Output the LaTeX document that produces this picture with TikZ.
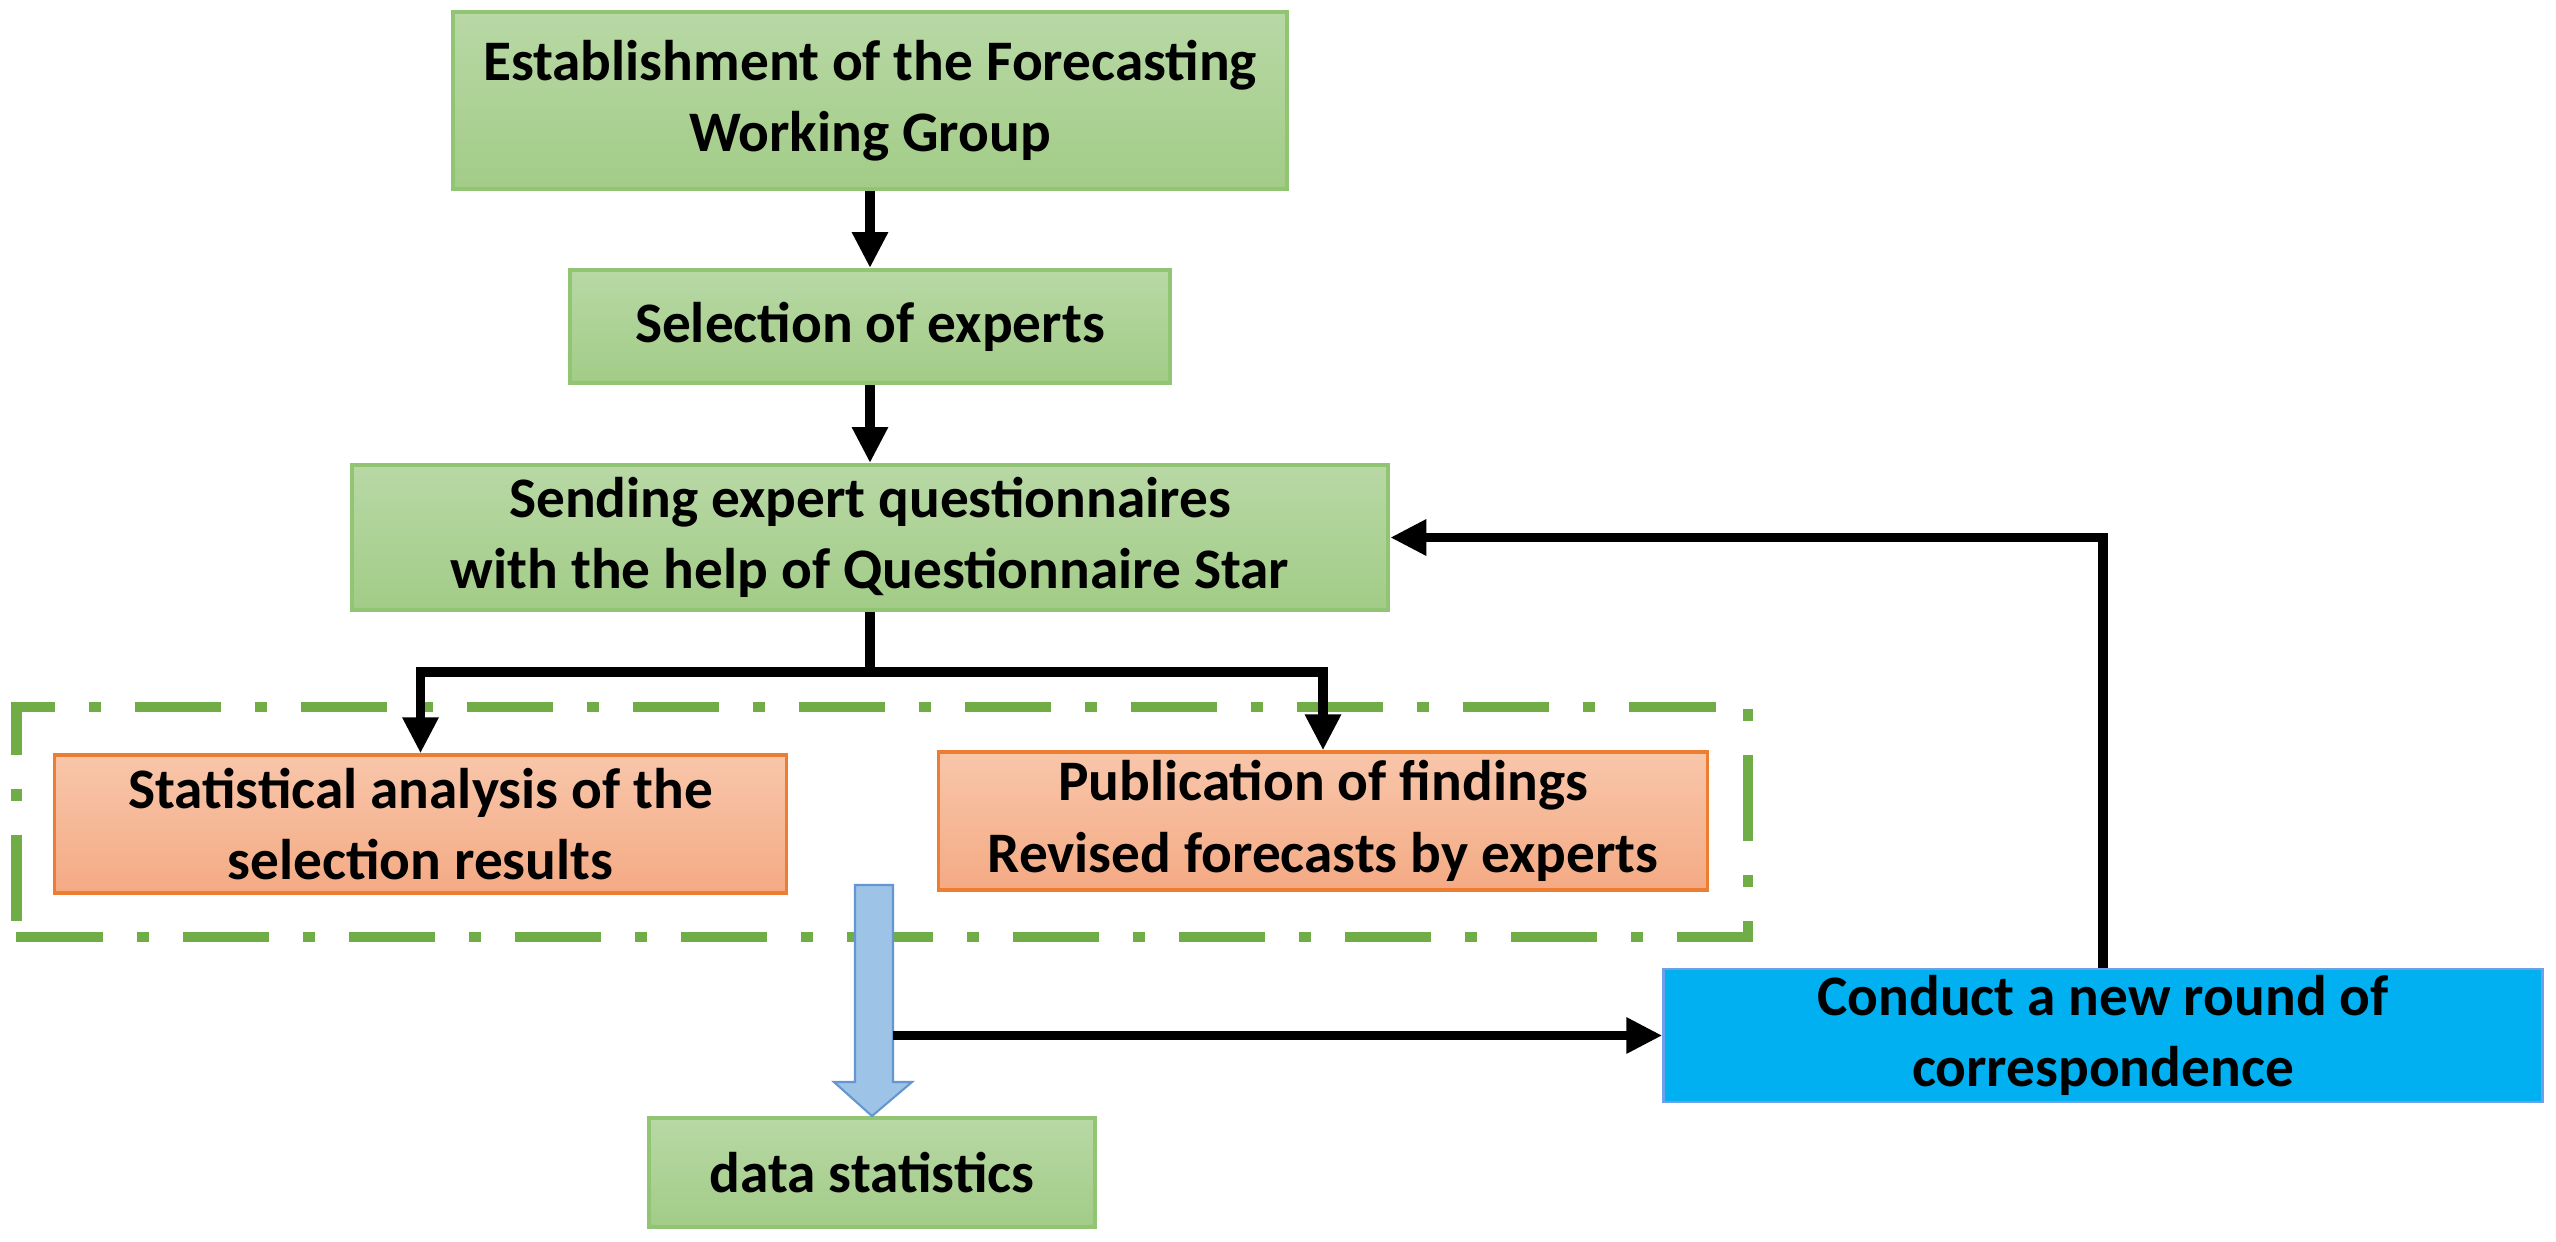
\documentclass[tikz,border=0pt]{standalone}
\usepackage{fontspec}
\setmainfont{Carlito}
\usetikzlibrary{arrows.meta,calc}
\definecolor{gTop}{RGB}{184,216,165}
\definecolor{gBot}{RGB}{162,204,135}
\definecolor{gBrd}{RGB}{145,196,115}
\definecolor{oTop}{RGB}{248,198,170}
\definecolor{oBot}{RGB}{244,170,132}
\definecolor{oBrd}{RGB}{237,125,49}
\definecolor{cBlue}{RGB}{0,176,240}
\definecolor{cBrd}{RGB}{110,160,230}
\definecolor{aBlue}{RGB}{157,195,230}
\definecolor{aBrd}{RGB}{100,150,210}
\definecolor{grpGreen}{RGB}{112,173,71}
\begin{document}
\begin{tikzpicture}[x=0.01cm,y=-0.01cm,
  box/.style={rectangle, inner sep=0pt, align=center,
    font=\fontsize{16.3}{20.3}\selectfont\bfseries, text=black},
  gbox/.style={box, top color=gTop, bottom color=gBot, draw=gBrd, line width=1.1pt},
  obox/.style={box, top color=oTop, bottom color=oBot, draw=oBrd, line width=0.9pt},
  cbox/.style={box, fill=cBlue, draw=cBrd, line width=0.8pt},
  grp/.style={rectangle, draw=grpGreen, line width=0.1cm,
    dash pattern=on 0.86cm off 0.34cm on 0.12cm off 0.34cm},
  conn/.style={line width=0.095cm, draw=black},
  tip/.style={-{Triangle[length=0.36cm,width=0.34cm]}},
  fat/.style={fill=aBlue, draw=aBrd, line width=0.6pt}
]
\fill[white] (0,0) rectangle (2556,1242);
\useasboundingbox (0,0) rectangle (2556,1242);

% group frame
\node[grp, minimum width=17.30cm, minimum height=2.30cm] (grpbox) at (882,822) {};

% nodes
\node[gbox, minimum width=8.34cm, minimum height=1.77cm] (est) at (870,100.5)
  {Establishment of the Forecasting\\Working Group};
\node[gbox, minimum width=5.99cm, minimum height=1.13cm] (sel) at (870,326.5)
  {Selection of experts};
\node[gbox, minimum width=10.36cm, minimum height=1.45cm] (send) at (870,537.5)
  {Sending expert questionnaires\\with the help of Questionnaire Star};
\node[obox, minimum width=7.31cm, minimum height=1.38cm] (stat) at (420.5,824)
  {Statistical analysis of the\\selection results};
\node[obox, minimum width=7.68cm, minimum height=1.38cm] (pub) at (1323,821)
  {Publication of findings\\Revised forecasts by experts};
\node[gbox, minimum width=4.45cm, minimum height=1.09cm] (data) at (872,1172.5)
  {data statistics};
\node[cbox, minimum width=8.78cm, minimum height=1.33cm] (conduct) at (2103,1035.5)
  {Conduct a new round of\\correspondence};

% connectors
\draw[conn,tip] (est) -- (sel);
\draw[conn,tip] (sel) -- (send);
\coordinate (split) at (870,672);
\draw[conn] (send.south) -- (split);
\draw[conn,tip] (split) -| (stat.north);
\draw[conn,tip] (split) -| (pub.north);
\draw[conn,tip] (conduct.north) |- (send.east);

% block arrow to data statistics
\draw[fat] (855,885) -- (893,885) -- (893,1082) -- (912,1082) -- (data.north)
  -- (834,1082) -- (855,1082) -- cycle;
\coordinate (hs) at (893,1035.5);
\draw[conn,tip] (hs) -- (conduct.west);
\end{tikzpicture}
\end{document}
